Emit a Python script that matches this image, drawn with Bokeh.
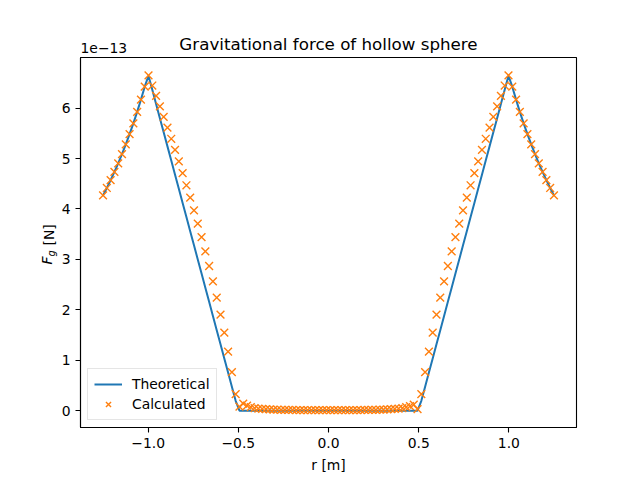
import math
from bokeh.plotting import figure
from bokeh.models import Range1d, FixedTicker, Label, Legend, LegendItem
from bokeh.embed import file_html
from bokeh.resources import INLINE

# radius samples [m]
r_neg = [-1.25, -1.229, -1.208, -1.187, -1.166, -1.145, -1.1239, -1.1029, -1.0819, -1.0609,
         -1.0399, -1.0189, -0.9979, -0.9769, -0.9559, -0.9349, -0.9139, -0.8929, -0.8718, -0.8508,
         -0.8298, -0.8088, -0.7878, -0.7668, -0.7458, -0.7248, -0.7038, -0.6828, -0.6618, -0.6408,
         -0.6197, -0.5987, -0.5777, -0.5567, -0.5357, -0.5147, -0.4937, -0.4727, -0.4517, -0.4307,
         -0.4097, -0.3887, -0.3676, -0.3466, -0.3256, -0.3046, -0.2836, -0.2626, -0.2416, -0.2206,
         -0.1996, -0.1786, -0.1576, -0.1366, -0.1155, -0.0945, -0.0735, -0.0525, -0.0315, -0.0105]
r_pos = [0.0105, 0.0315, 0.0525, 0.0735, 0.0945, 0.1155, 0.1366, 0.1576, 0.1786, 0.1996,
         0.2206, 0.2416, 0.2626, 0.2836, 0.3046, 0.3256, 0.3466, 0.3676, 0.3887, 0.4097,
         0.4307, 0.4517, 0.4727, 0.4937, 0.5147, 0.5357, 0.5567, 0.5777, 0.5987, 0.6197,
         0.6408, 0.6618, 0.6828, 0.7038, 0.7248, 0.7458, 0.7668, 0.7878, 0.8088, 0.8298,
         0.8508, 0.8718, 0.8929, 0.9139, 0.9349, 0.9559, 0.9769, 0.9979, 1.0189, 1.0399,
         1.0609, 1.0819, 1.1029, 1.1239, 1.145, 1.166, 1.187, 1.208, 1.229, 1.25]

# theoretical force [1e-13 N]
theo_neg = [4.269, 4.416, 4.571, 4.734, 4.906, 5.088, 5.280, 5.483, 5.698, 5.926,
            6.168, 6.425, 6.642, 6.362, 6.081, 5.801, 5.521, 5.241, 4.960, 4.680,
            4.400, 4.120, 3.840, 3.559, 3.279, 2.999, 2.718, 2.438, 2.158, 1.878,
            1.597, 1.317, 1.037, 0.757, 0.476, 0.196, 0, 0, 0, 0,
            0, 0, 0, 0, 0, 0, 0, 0, 0, 0,
            0, 0, 0, 0, 0, 0, 0, 0, 0, 0]
theo_pos = [0, 0, 0, 0, 0, 0, 0, 0, 0, 0,
            0, 0, 0, 0, 0, 0, 0, 0, 0, 0,
            0, 0, 0, 0, 0.196, 0.476, 0.757, 1.037, 1.317, 1.597,
            1.878, 2.158, 2.438, 2.718, 2.999, 3.279, 3.559, 3.840, 4.120, 4.400,
            4.680, 4.960, 5.241, 5.521, 5.801, 6.081, 6.362, 6.642, 6.425, 6.168,
            5.926, 5.698, 5.483, 5.280, 5.088, 4.906, 4.734, 4.571, 4.416, 4.269]

# calculated force [1e-13 N]
calc_neg = [4.269, 4.416, 4.571, 4.734, 4.906, 5.088, 5.280, 5.483, 5.698, 5.926,
            6.168, 6.425, 6.650, 6.448, 6.244, 6.036, 5.825, 5.611, 5.392, 5.170,
            4.942, 4.709, 4.470, 4.225, 3.972, 3.711, 3.441, 3.161, 2.869, 2.564,
            2.243, 1.906, 1.549, 1.170, 0.763, 0.327, 0.08, 0.14, 0.10, 0.07,
            0.05, 0.04, 0.035, 0.03, 0.025, 0.02, 0.02, 0.018, 0.016, 0.015,
            0.014, 0.013, 0.012, 0.011, 0.011, 0.010, 0.010, 0.010, 0.009, 0.009]
calc_pos = [0.009, 0.009, 0.010, 0.010, 0.010, 0.011, 0.011, 0.012, 0.013, 0.014,
            0.015, 0.016, 0.018, 0.02, 0.02, 0.025, 0.03, 0.035, 0.04, 0.05,
            0.07, 0.09, 0.12, 0.03, 0.327, 0.763, 1.170, 1.549, 1.906, 2.243,
            2.564, 2.869, 3.161, 3.441, 3.711, 3.972, 4.225, 4.470, 4.709, 4.942,
            5.170, 5.392, 5.611, 5.825, 6.036, 6.244, 6.448, 6.650, 6.425, 6.168,
            5.926, 5.698, 5.483, 5.280, 5.088, 4.906, 4.734, 4.571, 4.416, 4.269]

r = r_neg + r_pos
theoretical = theo_neg + theo_pos
calculated = calc_neg + calc_pos

x_ticks = [-1.0, -0.5, 0.0, 0.5, 1.0]
x_tick_labels = ["\u22121.0", "\u22120.5", "0.0", "0.5", "1.0"]
y_ticks = [0, 1, 2, 3, 4, 5, 6]

FONT = "DejaVu Sans"
FS = "13.9px"

p = figure(width=640, height=480, frame_width=496, frame_height=370,
           min_border_left=80, min_border_right=64, min_border_top=57, min_border_bottom=53,
           output_backend="svg", toolbar_location=None,
           x_range=Range1d(-1.375, 1.375), y_range=Range1d(-0.3335, 7.0035),
           title=None)
p.background_fill_color = "white"
p.border_fill_color = "white"
p.outline_line_color = "black"
p.outline_line_width = 1.1
p.xgrid.visible = False
p.ygrid.visible = False

for ax in (p.xaxis[0], p.yaxis[0]):
    ax.axis_line_color = "black"
    ax.axis_line_width = 1.1
    ax.major_tick_out = 5
    ax.major_tick_in = 0
    ax.major_tick_line_width = 1.1
    ax.major_tick_line_color = "black"
    ax.minor_tick_out = 0
    ax.minor_tick_in = 0
    ax.major_label_text_font = FONT
    ax.major_label_text_font_size = FS
    ax.major_label_text_color = "black"
    ax.major_label_standoff = 5
    ax.axis_label_text_font = FONT
    ax.axis_label_text_font_size = FS
    ax.axis_label_text_font_style = "normal"
    ax.axis_label_text_color = "black"

p.xaxis.ticker = FixedTicker(ticks=x_ticks)
p.xaxis.major_label_overrides = {t: l for t, l in zip(x_ticks, x_tick_labels)}
p.xaxis.axis_label = "r [m]"
p.xaxis.axis_label_standoff = 6
p.yaxis.ticker = FixedTicker(ticks=y_ticks)
p.yaxis.major_label_overrides = {t: str(t) for t in y_ticks}

ln = p.line(r, theoretical, line_color="#1f77b4", line_width=2)
sc = p.scatter(r, calculated, marker="x", size=11, line_color="#ff7f0e", line_width=1.4)

legend = Legend(items=[LegendItem(label="Theoretical", renderers=[ln]),
                       LegendItem(label="Calculated", renderers=[sc])],
                location="bottom_left")
legend.label_text_font = FONT
legend.label_text_font_size = FS
legend.label_text_color = "black"
legend.border_line_color = "#cccccc"
legend.border_line_width = 1
legend.margin = 7
legend.padding = 6
legend.spacing = 2
legend.glyph_width = 28
legend.glyph_height = 18
legend.label_standoff = 10
legend.label_height = 18
p.add_layout(legend)

# offset text (panel next to the frame) and title (outer panel)
p.add_layout(Label(x=0, y=10, x_units="screen", y_units="screen", text="1e\u221213",
                   text_font=FONT, text_font_size=FS, text_color="black",
                   text_baseline="middle", text_align="left"), "above")
p.add_layout(Label(x=248, y=4, x_units="screen", y_units="screen",
                   text="Gravitational force of hollow sphere",
                   text_font=FONT, text_font_size="16.7px", text_color="black",
                   text_baseline="middle", text_align="center"), "above")

# y label pieces, each in its own left panel
p.add_layout(Label(x=4.5, y=163, x_units="screen", y_units="screen", text="F", angle=math.pi / 2,
                   text_font=FONT, text_font_size=FS, text_font_style="italic", text_color="black",
                   text_baseline="alphabetic", text_align="left"), "left")
p.add_layout(Label(x=20, y=171, x_units="screen", y_units="screen", text="g", angle=math.pi / 2,
                   text_font=FONT, text_font_size="9.8px", text_font_style="italic", text_color="black",
                   text_baseline="alphabetic", text_align="left"), "left")
p.add_layout(Label(x=33.5, y=182, x_units="screen", y_units="screen", text="[N]", angle=math.pi / 2,
                   text_font=FONT, text_font_size=FS, text_color="black",
                   text_baseline="alphabetic", text_align="left"), "left")

open("out.html", "w").write(file_html(p, INLINE))
